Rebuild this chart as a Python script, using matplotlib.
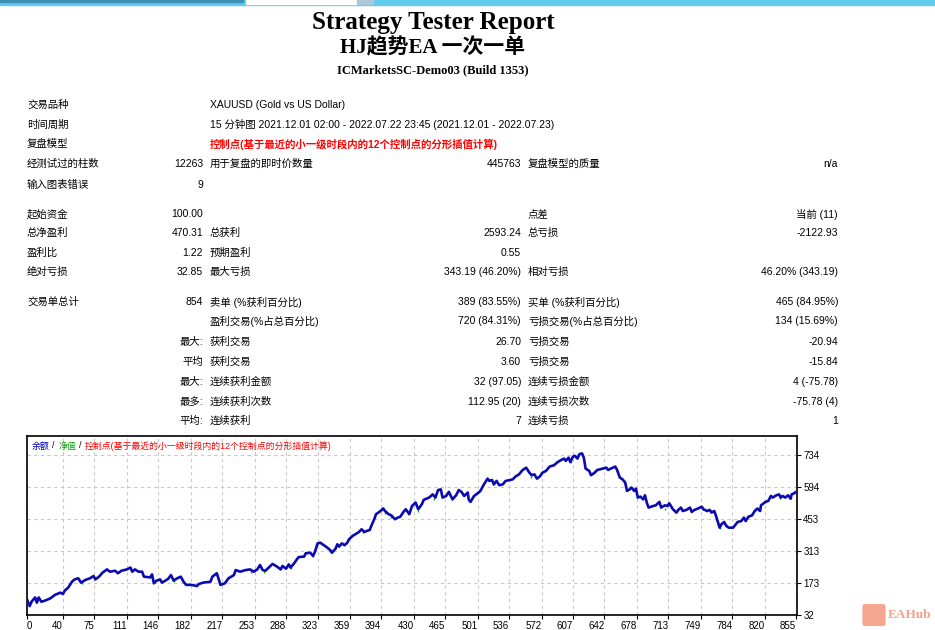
import matplotlib
matplotlib.use('Agg')
import matplotlib.pyplot as plt
from matplotlib.patches import Rectangle, FancyBboxPatch

W, H = 935, 630

# ---- report header ----
title = 'Strategy Tester Report'
ea_name = 'HJ趋势EA 一次一单'
server = 'ICMarketsSC-Demo03 (Build 1353)'

# ---- report table, one entry per row: (label A, value B, label C, value D, label E, value F) ----
rows = [
    ('交易品种', '', 'XAUUSD (Gold vs US Dollar)', '', '', ''),
    ('时间周期', '', '15 分钟图 2021.12.01 02:00 - 2022.07.22 23:45 (2021.12.01 - 2022.07.23)', '', '', ''),
    ('复盘模型', '', '控制点(基于最近的小一级时段内的12个控制点的分形插值计算)', '', '', ''),
    ('经测试过的柱数', '12263', '用于复盘的即时价数量', '445763', '复盘模型的质量', 'n/a'),
    ('输入图表错误', '9', '', '', '', ''),
    ('起始资金', '100.00', '', '', '点差', '当前 (11)'),
    ('总净盈利', '470.31', '总获利', '2593.24', '总亏损', '-2122.93'),
    ('盈利比', '1.22', '预期盈利', '0.55', '', ''),
    ('绝对亏损', '32.85', '最大亏损', '343.19 (46.20%)', '相对亏损', '46.20% (343.19)'),
    ('交易单总计', '854', '卖单 (%获利百分比)', '389 (83.55%)', '买单 (%获利百分比)', '465 (84.95%)'),
    ('', '', '盈利交易(%占总百分比)', '720 (84.31%)', '亏损交易(%占总百分比)', '134 (15.69%)'),
    ('', '最大:', '获利交易', '26.70', '亏损交易', '-20.94'),
    ('', '平均', '获利交易', '3.60', '亏损交易', '-15.84'),
    ('', '最大:', '连续获利金额', '32 (97.05)', '连续亏损金额', '4 (-75.78)'),
    ('', '最多:', '连续获利次数', '112.95 (20)', '连续亏损次数', '-75.78 (4)'),
    ('', '平均:', '连续获利', '7', '连续亏损', '1'),
]
row_y = [105, 125, 144, 164, 185, 214, 233, 253, 272, 302, 321, 342, 362, 382, 402, 421]
red_row = 2

# ---- balance curve (trade number, balance) ----
trade_no = [0, 3, 5, 9, 11, 13, 16, 20, 26, 31, 37, 40, 42, 46, 50, 53, 57, 60, 65, 70,
            74, 76, 80, 84, 89, 92, 98, 101, 105, 111, 115, 117, 120, 124, 128, 130, 137, 139, 141, 144,
            148, 150, 154, 157, 160, 163, 167, 171, 174, 177, 183, 189, 191, 196, 204, 206, 211, 214, 215, 220,
            224, 230, 232, 237, 243, 248, 252, 256, 259, 262, 265, 269, 273, 278, 282, 284, 288, 291, 293, 297,
            300, 302, 308, 310, 315, 318, 320, 323, 326, 330, 334, 337, 339, 343, 345, 347, 350, 353, 356, 358,
            362, 365, 369, 372, 375, 378, 381, 383, 386, 388, 393, 396, 398, 402, 405, 409, 412, 415, 418, 421,
            425, 428, 432, 435, 439, 441, 447, 451, 454, 457, 460, 462, 466, 469, 473, 477, 480, 483, 486, 490,
            491, 493, 497, 502, 504, 508, 512, 514, 517, 519, 522, 525, 529, 532, 537, 540, 543, 547, 551, 555,
            558, 561, 564, 567, 570, 573, 577, 581, 586, 590, 594, 597, 599, 602, 604, 607, 609, 612, 614, 617,
            619, 621, 625, 627, 631, 634, 640, 644, 646, 649, 654, 656, 659, 662, 665, 667, 670, 672, 675, 677,
            679, 682, 685, 687, 689, 691, 696, 699, 703, 705, 709, 712, 714, 718, 722, 724, 727, 729, 733, 737,
            739, 742, 746, 750, 752, 756, 759, 761, 764, 766, 768, 770, 772, 775, 777, 780, 785, 787, 790, 794,
            797, 799, 802, 806, 809, 812, 815, 816, 821, 824, 827, 829, 833, 836, 838, 840, 843, 846, 849, 850,
            853, 854]
balance = [100, 71, 90, 109, 86, 109, 90, 95, 105, 120, 130, 124, 139, 153, 178, 188, 193, 174, 186, 193,
           203, 188, 200, 218, 232, 222, 226, 215, 226, 232, 240, 222, 232, 222, 222, 200, 197, 210, 171, 183,
           188, 174, 183, 191, 207, 183, 193, 200, 178, 164, 164, 159, 168, 174, 178, 200, 215, 178, 164, 171,
           193, 207, 229, 222, 229, 232, 222, 232, 251, 229, 226, 241, 256, 244, 232, 247, 235, 254, 240, 259,
           276, 286, 288, 303, 305, 291, 308, 346, 349, 338, 327, 317, 305, 323, 342, 332, 346, 338, 349, 364,
           379, 386, 396, 408, 396, 401, 405, 425, 452, 474, 488, 499, 488, 474, 469, 452, 459, 463, 481, 496,
           474, 510, 525, 496, 518, 537, 547, 561, 547, 580, 583, 547, 554, 572, 539, 557, 580, 572, 554, 569,
           539, 528, 554, 569, 576, 605, 630, 620, 624, 605, 620, 601, 605, 620, 624, 627, 639, 649, 668, 678,
           659, 645, 649, 630, 639, 656, 664, 683, 689, 703, 712, 718, 708, 722, 703, 727, 730, 718, 737, 741,
           722, 674, 664, 645, 656, 668, 674, 678, 668, 674, 683, 668, 635, 627, 613, 576, 583, 591, 576, 586,
           547, 551, 539, 557, 525, 503, 510, 513, 528, 503, 513, 510, 522, 496, 481, 493, 503, 488, 493, 503,
           484, 493, 499, 507, 496, 488, 493, 481, 488, 466, 440, 415, 430, 440, 425, 415, 415, 425, 440, 444,
           459, 444, 463, 469, 488, 499, 488, 513, 528, 532, 554, 547, 557, 561, 547, 554, 547, 557, 542, 561,
           566, 570]

# equity dips (green) visible under the balance line
dip_trade = [61, 163, 249, 264, 293, 318, 373, 398, 405, 435, 452, 518, 560, 605, 709, 752, 770, 777, 837, 848]
dip_equity = [168, 175, 215, 215, 232, 286, 390, 474, 459, 484, 537, 601, 632, 697, 493, 491, 408, 420, 542, 542]

x_ticks = [0, 40, 75, 111, 146, 182, 217, 253, 288, 323, 359, 394, 430, 465, 501, 536, 572,
           607, 642, 678, 713, 749, 784, 820, 855]
y_ticks = [32, 173, 313, 453, 594, 734]

legend_parts = [('余额', '#0000b0'), ('/', 'black'), ('净值', '#00a000'), ('/', 'black'),
                ('控制点(基于最近的小一级时段内的12个控制点的分形插值计算)', '#ff0000')]
legend_x = [32, 52, 59, 79, 85]

sans = ['Liberation Sans', 'Noto Sans CJK SC']
serif = ['Liberation Serif', 'Noto Sans CJK SC']


def fx(x):
    return x / W


def fy(y):
    return 1 - y / H


fig = plt.figure(figsize=(W / 100, H / 100), dpi=100)
fig.patch.set_facecolor('white')

# browser strip on top
fig.patches.append(Rectangle((0, fy(5)), 1, 5 / H, transform=fig.transFigure,
                             color='#5ecbef', zorder=0))
fig.patches.append(Rectangle((0, fy(1.5)), fx(243), 1.5 / H, transform=fig.transFigure,
                             color='#3f8fb4', zorder=1))
fig.patches.append(Rectangle((fx(246), fy(4)), fx(111), 4 / H, transform=fig.transFigure,
                             color='white', zorder=1))
fig.patches.append(Rectangle((fx(357), fy(4)), fx(16), 4 / H, transform=fig.transFigure,
                             color='#aac8d6', zorder=1))

# header
fig.text(fx(433), fy(22), title, ha='center', va='center', fontsize=18,
         fontweight='bold', family=serif)
fig.text(fx(433), fy(48), ea_name, ha='center', va='center', fontsize=15,
         fontweight='bold', family=serif)
fig.text(fx(433), fy(70), server, ha='center', va='center', fontsize=9,
         fontweight='bold', family=serif)

# table
col_a, col_b, col_c, col_d, col_e, col_f = 27, 203, 210, 521, 528, 838
for i, (a, b, c, d, e, f) in enumerate(rows):
    y = fy(row_y[i])
    kw = dict(va='center', fontsize=7.5, family=sans)
    fig.text(fx(col_a), y, a, ha='left', **kw)
    fig.text(fx(col_b), y, b, ha='right', **kw)
    if i == red_row:
        fig.text(fx(col_c), y, c, ha='left', color='#ff0000', fontweight='bold', **kw)
    else:
        fig.text(fx(col_c), y, c, ha='left', **kw)
    fig.text(fx(col_d), y, d, ha='right', **kw)
    fig.text(fx(col_e), y, e, ha='left', **kw)
    fig.text(fx(col_f), y, f, ha='right', **kw)

# equity chart
ax = fig.add_axes([fx(27), fy(615), fx(797 - 27), (615 - 436) / H])
ax.vlines(dip_trade, dip_equity, [v + 10 for v in dip_equity], color='#00b000', lw=1, zorder=2)
ax.plot(trade_no, balance, color='#0a0ab0', lw=1.9, zorder=3)
ax.set_xlim(0, 856)
ax.set_ylim(32, 817)
ax.set_xticks(x_ticks)
ax.set_yticks(y_ticks)
ax.yaxis.tick_right()
ax.tick_params(axis='both', direction='out', length=3, width=0.8, labelsize=7, pad=1.5)
for lab in ax.get_xticklabels() + ax.get_yticklabels():
    lab.set_family(sans)
# MT4 puts the x labels just left of their tick, the first one starts at the frame
xlabs = ax.get_xticklabels()
for lab in xlabs[1:]:
    lab.set_horizontalalignment('right')
xlabs[0].set_horizontalalignment('left')
ax.grid(True, color='#c8c8c8', linestyle=(0, (3, 3)), linewidth=0.8)
for s in ax.spines.values():
    s.set_linewidth(1.2)
    s.set_color('black')

for (txt, col), x in zip(legend_parts, legend_x):
    fig.text(fx(x), fy(446), txt, ha='left', va='center', fontsize=6.4, color=col, family=sans)

# watermark
fig.patches.append(FancyBboxPatch((fx(865), fy(624)), fx(18), 18 / H,
                                  boxstyle='round,pad=0.002', transform=fig.transFigure,
                                  color='#f6a58e', zorder=5))
fig.text(fx(874), fy(615), '●', ha='center', va='center', fontsize=8, color='white')
fig.text(fx(888), fy(615), 'EAHub', ha='left', va='center', fontsize=9.5,
         fontweight='bold', family=serif, color='#f6a08a')

fig.savefig('out.png', dpi=100)
